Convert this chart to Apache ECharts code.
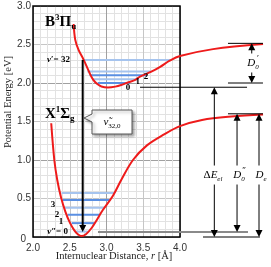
<!DOCTYPE html>
<html><head><meta charset="utf-8">
<script src="https://cdn.jsdelivr.net/npm/echarts@6/dist/echarts.min.js"></script>
<style>html,body{margin:0;padding:0;background:#fff}#c{width:271px;height:267px}</style>
</head><body><div id="c"></div>
<script>
// ---- data ----
const xTickLabels = ['2.0', '2.5', '3.0', '3.5', '4.0'];
const yTickLabels = ['0', '0.5', '1.0', '1.5', '2.0', '2.5', '3.0'];

// ground state X1Σg potential (r in Å, E in eV)
const xStateR = [2.248, 2.29, 2.33, 2.38, 2.44, 2.50, 2.56, 2.61, 2.66, 2.72, 2.80, 2.88, 2.95, 3.09, 3.20, 3.36, 3.55, 3.77, 4.0, 4.3, 4.7, 5.13];
const xStateE = [1.477, 1.0, 0.74, 0.52, 0.33, 0.19, 0.09, 0.035, 0.012, 0.035, 0.12, 0.24, 0.35, 0.54, 0.74, 1.0, 1.19, 1.325, 1.44, 1.52, 1.565, 1.59];

// excited state B3Πu potential
const bStateR = [2.553, 2.575, 2.62, 2.69, 2.77, 2.82, 2.87, 2.93, 3.02, 3.12, 3.20, 3.30, 3.39, 3.45, 3.61, 3.73, 3.86, 4.0, 4.45, 5.13];
const bStateE = [2.766, 2.56, 2.43, 2.30, 2.13, 2.04, 1.99, 1.955, 1.942, 1.953, 1.974, 2.01, 2.04, 2.08, 2.147, 2.21, 2.29, 2.35, 2.44, 2.505];

// vibrational levels (energy, left end, right end)
const xLevelE = [0.07, 0.18, 0.29, 0.38, 0.48, 0.57];
const xLevelR1 = [2.58, 2.526, 2.471, 2.43, 2.403, 2.389];
const xLevelR2 = [2.744, 2.84, 2.908, 2.976, 3.044, 3.113];
const bLevelE = [2.00, 2.05, 2.10, 2.15, 2.30];
const bLevelR1 = [2.88, 2.81, 2.77, 2.74, 2.68];
const bLevelR2 = [3.32, 3.43, 3.55, 3.61, 3.87];

// energy references
const xAsymptote = 1.60;
const bAsymptote = 2.515;
const bMinimum = 1.945;
const xZeroPoint = 0.065;
const bZeroPoint = 2.0;
const transitionR = 2.676;
const transitionUpper = 2.30;

// ---- chart ----
const chart = echarts.init(document.getElementById('c'), null, {renderer: 'canvas'});
const LIGHT = '#a6c4ee', MID = '#5a8fe2';
const xLevelColors = [LIGHT, MID, MID, LIGHT, MID, LIGHT];
const bLevelColors = [MID, LIGHT, MID, LIGHT, LIGHT];
const RED = '#ee1b1b';
const serif = 'Liberation Serif';
const sans = 'Liberation Sans';

const series = [];
xLevelE.forEach((e, i) => series.push({
  type: 'line', xAxisIndex: 1, yAxisIndex: 1, symbol: 'none', silent: true, z: 2,
  data: [[xLevelR1[i], e], [xLevelR2[i], e]],
  lineStyle: {color: xLevelColors[i], width: 2}
}));
bLevelE.forEach((e, i) => series.push({
  type: 'line', xAxisIndex: 1, yAxisIndex: 1, symbol: 'none', silent: true, z: 2,
  data: [[bLevelR1[i], e], [bLevelR2[i], e]],
  lineStyle: {color: bLevelColors[i], width: 2}
}));
series.push({
  type: 'line', xAxisIndex: 1, yAxisIndex: 1, symbol: 'none', smooth: 0.35, z: 4, clip: false,
  data: xStateR.map((r, i) => [r, xStateE[i]]),
  lineStyle: {color: RED, width: 2}
});
series.push({
  type: 'line', xAxisIndex: 1, yAxisIndex: 1, symbol: 'none', smooth: 0.35, z: 4, clip: false,
  data: bStateR.map((r, i) => [r, bStateE[i]]),
  lineStyle: {color: RED, width: 2}
});
series.push({
  type: 'line', xAxisIndex: 1, yAxisIndex: 1, symbol: 'none', z: 5,
  data: [[transitionR, transitionUpper], [transitionR, xZeroPoint + 0.06]],
  lineStyle: {color: '#000', width: 2}
});

chart.setOption({
  animation: false,
  grid: [
    {left: 33, top: 6, width: 147, height: 231, show: true, borderColor: '#000', borderWidth: 1.5, backgroundColor: 'transparent', z: 1},
    {left: 33, top: 6, width: 238, height: 231}
  ],
  xAxis: [
    {gridIndex: 0, type: 'value', min: 2, max: 4, interval: 0.5,
     axisLine: {show: false}, axisTick: {show: false},
     axisLabel: {fontFamily: sans, fontSize: 10, color: '#333', margin: 6,
       formatter: v => xTickLabels[Math.round((v - 2) / 0.5)]},
     splitLine: {show: true, lineStyle: {color: ['#a0a0a0', '#c6c6c6'], width: 1}},
     minorTick: {show: false, splitNumber: 5},
     minorSplitLine: {show: true, lineStyle: {color: '#e2e2e2', width: 1}}},
    {gridIndex: 1, type: 'value', min: 2, max: 2 + 2 * 238 / 147, show: false}
  ],
  yAxis: [
    {gridIndex: 0, type: 'value', min: 0, max: 3, interval: 0.5,
     axisLine: {show: false}, axisTick: {show: false},
     axisLabel: {fontFamily: sans, fontSize: 10, color: '#333', margin: 2,
       formatter: v => { const i = Math.round(v / 0.5); return i === 0 ? '{z|0}' : yTickLabels[i]; },
       rich: {z: {fontFamily: sans, fontSize: 10, color: '#333', padding: [5, 5, 0, 0]}}},
     splitLine: {show: true, lineStyle: {color: ['#a0a0a0', '#c6c6c6'], width: 1}},
     minorTick: {show: false, splitNumber: 5},
     minorSplitLine: {show: true, lineStyle: {color: '#e2e2e2', width: 1}}},
    {gridIndex: 1, type: 'value', min: 0, max: 3, show: false}
  ],
  series: series
});

// ---- annotations anchored through the overlay axes ----
const P = (r, e) => chart.convertToPixel({xAxisIndex: 1, yAxisIndex: 1}, [r, e]);
const G = [];
function seg(a, b, color, w, z) {
  G.push({type: 'line', silent: true, z: z || 50, shape: {x1: a[0], y1: a[1], x2: b[0], y2: b[1]}, style: {stroke: color, lineWidth: w}});
}
function head(p, dir) { // dir -1 = pointing up, 1 = pointing down
  const x = p[0], y = p[1];
  G.push({type: 'polygon', silent: true, z: 52, shape: {points: [[x, y], [x - 3.5, y - dir * 7], [x + 3.5, y - dir * 7]]}, style: {fill: '#000'}});
}
function label(p, text, rich, opts) {
  G.push({type: 'text', silent: true, z: 60, x: p[0], y: p[1],
    style: Object.assign({text: text, rich: rich, align: 'center', verticalAlign: 'middle', fill: '#000'}, opts || {})});
}
const arrowRich = {
  i: {fontFamily: serif, fontStyle: 'italic', fontSize: 11},
  n: {fontFamily: serif, fontSize: 11},
  s: {fontFamily: serif, fontStyle: 'italic', fontSize: 7, padding: [8, 0, 0, 0]},
  p: {fontFamily: serif, fontSize: 8, padding: [0, 0, 8, 0]}
};

// right-side reference lines
const shortL = 4.653, shortR = 5.129;
seg(P(shortL, bAsymptote), P(shortR, bAsymptote), '#000', 1);
seg(P(shortL, bZeroPoint), P(shortR, bZeroPoint), '#000', 1);
seg(P(shortL, xAsymptote), P(shortR, xAsymptote), '#000', 1);
seg(P(3.456, bMinimum), P(4.912, bMinimum), '#000', 1);
seg(P(2.884, xZeroPoint), P(4.925, xZeroPoint), '#8a8a8a', 2, 40);
seg(P(4.313, 0), P(5.088, 0), '#000', 1);

// double arrows
function dArrow(r, e0, e1) {
  const a = P(r, e0), b = P(r, e1);
  seg([a[0], a[1] - 6], [b[0], b[1] + 6], '#000', 1);
  head(a, 1); head(b, -1);
}
dArrow(4.467, 0, bMinimum);
dArrow(4.776, xZeroPoint, xAsymptote);
dArrow(5.075, 0, xAsymptote);
dArrow(4.976, bZeroPoint, bAsymptote);

const bg = {backgroundColor: '#fff', padding: [2, 0, 2, 0]};
label(P(4.449, 0.805), '{n|Δ}{i|E}{s|el}', arrowRich, bg);
label(P(4.803, 0.805), '{i|D}{s|0}', arrowRich, bg);
label(P(5.102, 0.805), '{i|D}{s|e}', arrowRich, bg);
label(P(4.993, 2.26), '{i|D}{s|0}', arrowRich, bg);
// primes stacked above the subscript 0
const pr1 = P(4.803, 0.805), pr2 = P(4.993, 2.26);
label([pr1[0] + 5, pr1[1] - 4], '{p|″}', {p: {fontFamily: serif, fontSize: 9}});
label([pr2[0] + 5, pr2[1] - 4], '{p|′}', {p: {fontFamily: serif, fontSize: 9}});

// transition arrowhead
head(P(transitionR, xZeroPoint), 1);

// state labels
const stateRich = {
  b: {fontFamily: serif, fontWeight: 'bold', fontSize: 15},
  p: {fontFamily: serif, fontWeight: 'bold', fontSize: 9, padding: [0, 0, 9, 0]},
  s: {fontFamily: serif, fontWeight: 'bold', fontSize: 9, padding: [9, 0, 0, 0]}
};
label(P(2.163, 2.792), '{b|B}{p|3}{b|Π}{s|u}', stateRich, {align: 'left'});
label(P(2.163, 1.597), '{b|X}{p|1}{b|Σ}{s|g}', stateRich, {align: 'left'});

const lvlRich = {
  i: {fontFamily: serif, fontStyle: 'italic', fontWeight: 'bold', fontSize: 9},
  n: {fontFamily: serif, fontWeight: 'bold', fontSize: 9}
};
label(P(2.503, 2.299), '{i|v}{n|′= 32}', lvlRich, {align: 'right'});
label(P(2.476, 0.065), '{i|v}{n|″= 0}', lvlRich, {align: 'right'});
label(P(2.272, 0.416), '{n|3}', lvlRich);
label(P(2.327, 0.286), '{n|2}', lvlRich);
label(P(2.381, 0.195), '{n|1}', lvlRich);
label(P(3.293, 1.935), '{n|0}', lvlRich);
label(P(3.424, 2.017), '{n|1}', lvlRich);
label(P(3.537, 2.082), '{n|2}', lvlRich);

// callout
const c0 = P(2.803, 1.649);
const bx = c0[0], by = c0[1];
G.push({type: 'polygon', silent: true, z: 55,
  shape: {points: [[bx, by], [bx + 40, by], [bx + 40, by + 24], [bx, by + 24], [bx, by + 12], [bx - 8, by + 8], [bx, by + 4]]},
  style: {fill: '#fff', stroke: '#555', lineWidth: 1, shadowBlur: 3, shadowOffsetX: 2, shadowOffsetY: 2, shadowColor: 'rgba(0,0,0,0.35)'}});
label([bx + 20, by + 12], '{i|ν\u0303}{s|32,0}', {
  i: {fontFamily: serif, fontStyle: 'italic', fontSize: 11},
  s: {fontFamily: serif, fontSize: 7, padding: [8, 0, 0, 0]}
});

// axis names
G.push({type: 'text', silent: true, z: 60, x: 114, y: 256,
  style: {text: '{n|Internuclear Distance, }{i|r}{n| [Å]}', align: 'center', verticalAlign: 'middle', fill: '#222',
    rich: {n: {fontFamily: serif, fontSize: 10.5, fill: '#222'}, i: {fontFamily: serif, fontStyle: 'italic', fontSize: 10.5, fill: '#222'}}}});
G.push({type: 'text', silent: true, z: 60, x: 8, y: 102, rotation: Math.PI / 2,
  style: {text: 'Potential Energy [eV]', align: 'center', verticalAlign: 'middle', fill: '#222', font: '10.5px "Liberation Serif"'}});

chart.setOption({graphic: G});
</script></body></html>
